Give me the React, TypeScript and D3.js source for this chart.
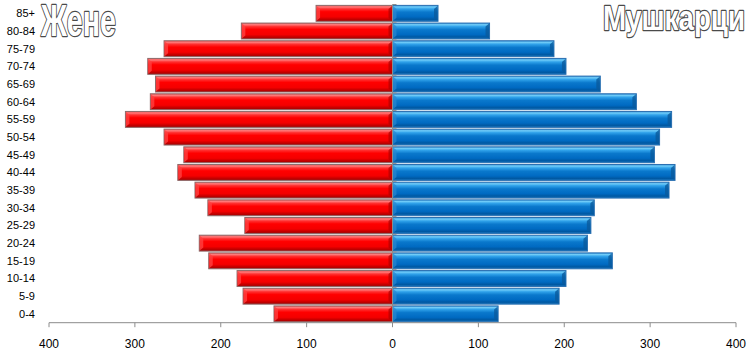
import React, { useLayoutEffect, useRef, useState } from "react";
import * as d3 from "d3";

const categories = ["0-4","5-9","10-14","15-19","20-24","25-29","30-34","35-39","40-44","45-49","50-54","55-59","60-64","65-69","70-74","75-79","80-84","85+"];
const women = [138,174,181,214,225,172,215,230,250,243,266,311,282,276,285,266,176,89];
const men = [123,194,202,256,227,231,235,322,329,305,311,325,284,242,202,188,113,53];
const tickValues = [-400,-300,-200,-100,0,100,200,300,400];
const titleWomen = "Жене";
const titleMen = "Мушкарци";

const W = 751, H = 354;

function FitTitle({ x, y, width, size, children }: { x: number; y: number; width: number; size: number; children: string }) {
  const ref = useRef<SVGTextElement>(null);
  const [k, setK] = useState(1);
  useLayoutEffect(() => {
    if (ref.current) {
      const len = ref.current.getComputedTextLength();
      if (len > 0) setK(width / len);
    }
  }, [width, children]);
  return (
    <text
      ref={ref}
      transform={`translate(${x},${y}) scale(${k},1)`}
      fontFamily="'Liberation Sans Narrow', 'Liberation Sans', Arial, sans-serif"
      fontWeight="bold"
      fontSize={size}
      fill="#ffffff"
      stroke="#4a4a4a"
      strokeWidth={2.4}
      strokeLinejoin="round"
      style={{ paintOrder: "stroke" }}
    >
      {children}
    </text>
  );
}

export default function App() {
  const x = d3.scaleLinear().domain([-400, 400]).range([49, 736]);
  const y = d3.scaleBand<string>().domain([...categories].reverse()).range([4.5, 322.7]).paddingInner(0.1).paddingOuter(0.05);
  const axisY = 322.7;
  const x0 = x(0);
  const bw = y.bandwidth();
  const font = "'Liberation Sans', Arial, sans-serif";

  return (
    <svg width={W} height={H} style={{ position: "absolute", left: 0, top: 0, background: "#fff" }}>
      <defs>
        <linearGradient id="gRed" x1="0" y1="0" x2="0" y2="1">
          <stop offset="0" stopColor="#e85050" />
          <stop offset="0.1" stopColor="#ff7a7a" />
          <stop offset="0.22" stopColor="#ff3030" />
          <stop offset="0.4" stopColor="#ff0000" />
          <stop offset="0.72" stopColor="#f40000" />
          <stop offset="0.86" stopColor="#c80000" />
          <stop offset="1" stopColor="#a00000" />
        </linearGradient>
        <linearGradient id="gBlue" x1="0" y1="0" x2="0" y2="1">
          <stop offset="0" stopColor="#3090d8" />
          <stop offset="0.1" stopColor="#70ccf8" />
          <stop offset="0.22" stopColor="#30a2ea" />
          <stop offset="0.42" stopColor="#0a78cc" />
          <stop offset="0.72" stopColor="#006ac2" />
          <stop offset="0.88" stopColor="#0058a2" />
          <stop offset="1" stopColor="#1a78c0" />
        </linearGradient>
      </defs>

      {/* women bars */}
      {categories.map((c, i) => {
        const yy = y(c)!;
        const xl = x(-women[i]);
        const w = x0 - xl;
        return (
          <g key={"w" + c}>
            <rect x={xl} y={yy} width={w} height={bw} fill="url(#gRed)" stroke="#8e6a6a" strokeWidth={1} />
            <polygon points={`${xl + 0.5},${yy + 0.5} ${xl + 4},${yy + 3.5} ${xl + 4},${yy + bw - 3.5} ${xl + 0.5},${yy + bw - 0.5}`} fill="#ff4040" opacity={0.8} />
            <polygon points={`${x0 - 0.5},${yy + 0.5} ${x0 - 4},${yy + 3.5} ${x0 - 4},${yy + bw - 3.5} ${x0 - 0.5},${yy + bw - 0.5}`} fill="#b00000" opacity={0.7} />
          </g>
        );
      })}
      {/* men bars */}
      {categories.map((c, i) => {
        const yy = y(c)!;
        const xr = x(men[i]);
        const w = xr - x0;
        return (
          <g key={"m" + c}>
            <rect x={x0} y={yy} width={w} height={bw} fill="url(#gBlue)" stroke="#2a6fb0" strokeWidth={1} />
            <polygon points={`${xr - 0.5},${yy + 0.5} ${xr - 4},${yy + 3.5} ${xr - 4},${yy + bw - 3.5} ${xr - 0.5},${yy + bw - 0.5}`} fill="#0a5a9c" opacity={0.8} />
            <polygon points={`${x0 + 0.5},${yy + 0.5} ${x0 + 4},${yy + 3.5} ${x0 + 4},${yy + bw - 3.5} ${x0 + 0.5},${yy + bw - 0.5}`} fill="#2a88d0" opacity={0.7} />
          </g>
        );
      })}

      {/* vertical axis */}
      <line x1={x0} x2={x0} y1={4.5} y2={axisY} stroke="#8c8c8c" strokeWidth={1} />
      {categories.map((c) => (
        <line key={"vt" + c} x1={x0} x2={x0 + 4} y1={y(c)! - y.step() * y.paddingInner() / 2} y2={y(c)! - y.step() * y.paddingInner() / 2} stroke="#8c8c8c" strokeWidth={1} />
      ))}

      {/* category labels */}
      {categories.map((c) => (
        <text key={"l" + c} x={35} y={y(c)! + bw / 2} dy="0.35em" textAnchor="end" fontFamily={font} fontSize={11} fill="#000">{c}</text>
      ))}

      {/* x axis */}
      <line x1={x(-400)} x2={x(400)} y1={axisY} y2={axisY} stroke="#8c8c8c" strokeWidth={1} />
      {tickValues.map((t) => (
        <g key={"t" + t}>
          <line x1={x(t)} x2={x(t)} y1={axisY} y2={axisY + 4.5} stroke="#8c8c8c" strokeWidth={1} />
          <text x={x(t)} y={344} dy="0.35em" textAnchor="middle" fontFamily={font} fontSize={12} fill="#000">{Math.abs(t)}</text>
        </g>
      ))}

      {/* titles */}
      <FitTitle x={41} y={36} width={75} size={44}>{titleWomen}</FitTitle>
      <FitTitle x={603} y={30} width={142} size={35}>{titleMen}</FitTitle>
    </svg>
  );
}
